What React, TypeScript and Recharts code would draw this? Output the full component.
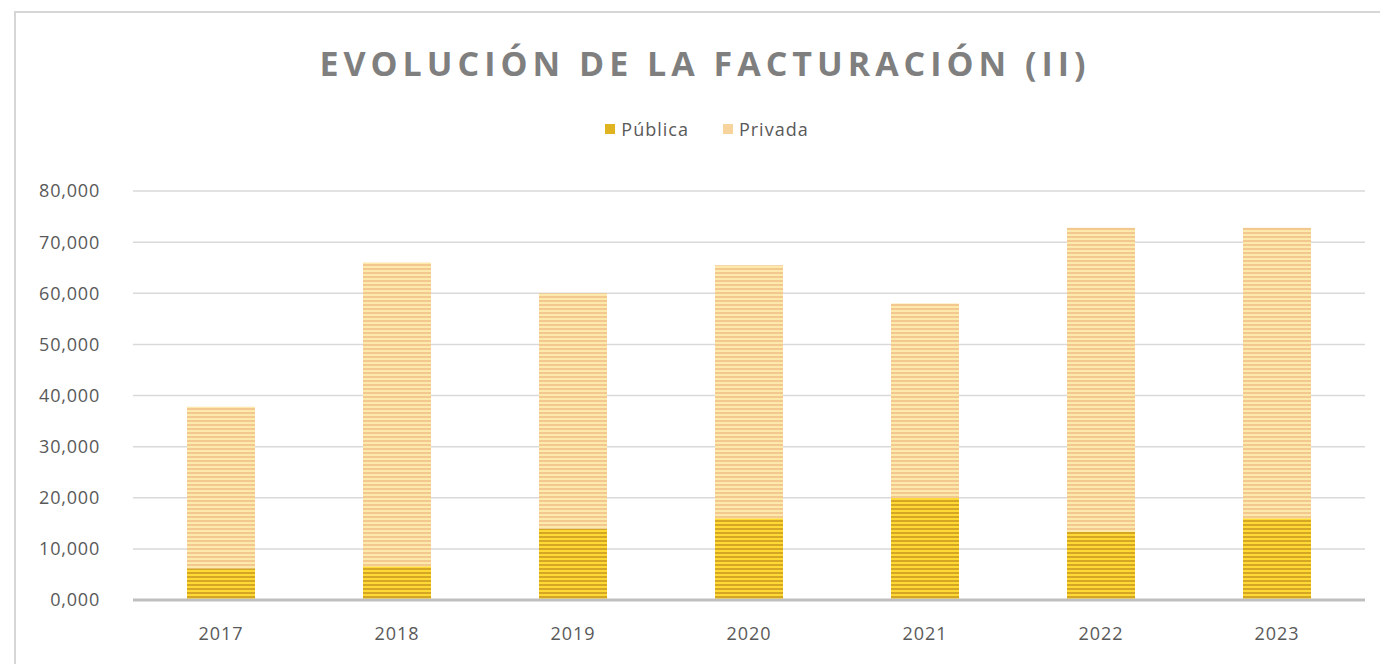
import React from 'react';
import { BarChart, Bar, XAxis, YAxis, CartesianGrid } from 'recharts';

const YEARS = ['2017', '2018', '2019', '2020', '2021', '2022', '2023'];
const PUBLICA = [6.2, 6.6, 14.0, 16.0, 20.0, 13.4, 16.0];
const PRIVADA = [31.6, 59.4, 46.0, 49.5, 38.0, 59.4, 56.8];
const Y_TICKS = [0, 10, 20, 30, 40, 50, 60, 70, 80];
const SERIES = [
  { key: 'publica', label: 'Pública', color: '#e0b420' },
  { key: 'privada', label: 'Privada', color: '#f6d49c' },
];

const data = YEARS.map((year, i) => ({ year, publica: PUBLICA[i], privada: PRIVADA[i] }));

const fmt = (v: number) => v.toFixed(3).replace('.', ',');
const FONT = '"Open Sans", "Noto Sans", sans-serif';

function Patterns() {
  return (
    <svg width={0} height={0} style={{ position: 'absolute' }}>
      <defs>
        <pattern id="stripePublica" width="8" height="4" patternUnits="userSpaceOnUse">
          <rect width="8" height="4" fill="#ffd935" />
          <rect width="8" height="2" fill="#d5a623" />
        </pattern>
        <pattern id="stripePrivada" width="8" height="4" patternUnits="userSpaceOnUse">
          <rect width="8" height="4" fill="#fde9ab" />
          <rect width="8" height="2" fill="#f3c88e" />
        </pattern>
      </defs>
    </svg>
  );
}

export default function App() {
  return (
    <div style={{ position: 'absolute', left: 0, top: 0, width: 1380, height: 664, overflow: 'hidden', background: '#fff' }}>
      <Patterns />
      <div
        style={{
          position: 'absolute', left: 14, top: 11, width: 1420, height: 720,
          borderTop: '2px solid #d6d6d6', borderLeft: '2px solid #d6d6d6',
        }}
      />
      <div
        style={{
          position: 'absolute', left: 0, width: 1410, top: 40, textAlign: 'center',
          fontFamily: FONT, fontWeight: 700, fontSize: 34, letterSpacing: 5, color: '#7f7f7f',
        }}
      >
        EVOLUCIÓN DE LA FACTURACIÓN (II)
      </div>
      <div
        style={{
          position: 'absolute', left: 0, width: 1414, top: 117, display: 'flex', justifyContent: 'center', gap: 34,
          fontFamily: FONT, fontSize: 18, letterSpacing: 1, color: '#595959',
        }}
      >
        {SERIES.map((s) => (
          <span key={s.key} style={{ display: 'flex', alignItems: 'center' }}>
            <span style={{ width: 10, height: 10, background: s.color, display: 'inline-block', marginRight: 6 }} />
            {s.label}
          </span>
        ))}
      </div>
      <div style={{ position: 'absolute', left: 0, top: 0 }}>
        <BarChart width={1380} height={664} data={data} margin={{ top: 191, right: 15, bottom: 34, left: 0 }} barSize={68}>
          <CartesianGrid vertical={false} stroke="#d9d9d9" strokeWidth={1.5} />
          <XAxis
            dataKey="year"
            height={30}
            axisLine={{ stroke: '#bfbfbf', strokeWidth: 3 }}
            tickLine={false}
            tickSize={0}
            tickMargin={27}
            tick={{ fill: '#595959', fontSize: 18, fontFamily: FONT, letterSpacing: 1 }}
          />
          <YAxis
            width={133}
            domain={[0, 80]}
            ticks={Y_TICKS}
            tickFormatter={fmt}
            axisLine={false}
            tickLine={false}
            tickSize={0}
            tickMargin={33}
            tick={{ fill: '#595959', fontSize: 18, fontFamily: FONT, letterSpacing: 0.8 }}
          />
          <Bar dataKey="publica" name="Pública" stackId="a" fill="url(#stripePublica)" isAnimationActive={false} />
          <Bar dataKey="privada" name="Privada" stackId="a" fill="url(#stripePrivada)" isAnimationActive={false} />
        </BarChart>
      </div>
    </div>
  );
}
